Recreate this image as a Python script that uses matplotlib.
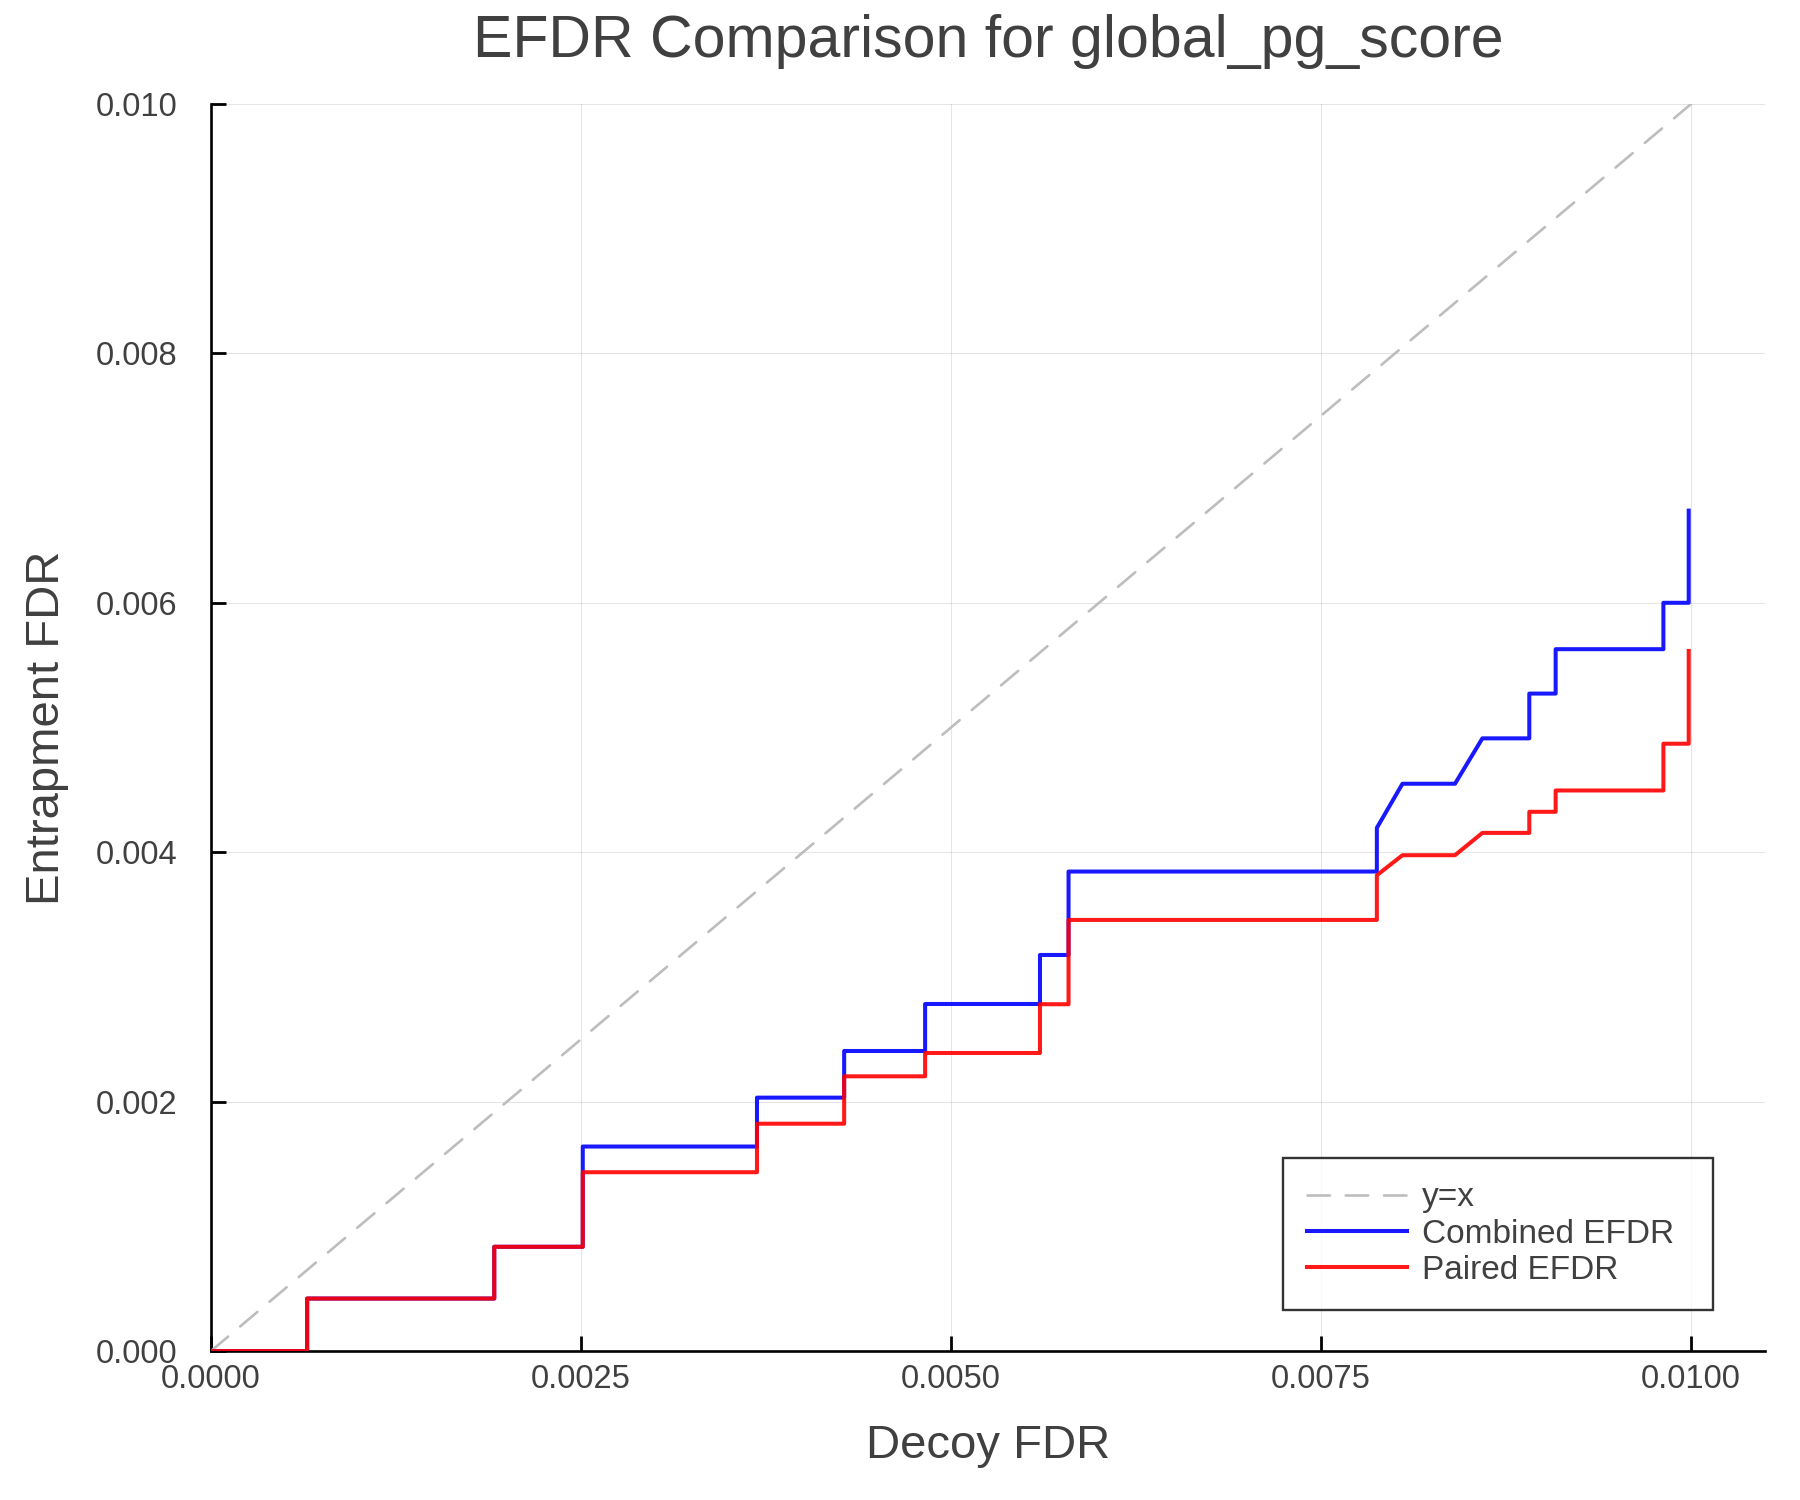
import matplotlib
matplotlib.use("Agg")
import matplotlib.pyplot as plt
import numpy as np

plt.rcParams['font.family'] = ['Liberation Sans', 'DejaVu Sans']

# ---- data ----
decoy_fdr = [0.0, 0.000650, 0.000650, 0.001914, 0.001914, 0.002512, 0.002512,
             0.003689, 0.003689, 0.004278, 0.004278, 0.004825, 0.004825,
             0.005601, 0.005601, 0.005794, 0.005794, 0.007877, 0.007877,
             0.008050, 0.008405, 0.008590, 0.008907, 0.008907, 0.009085,
             0.009085, 0.009813, 0.009813, 0.009984, 0.009984]
combined_efdr = [0.0, 0.0, 0.000421, 0.000421, 0.000836, 0.000836, 0.001640,
                 0.001640, 0.002032, 0.002032, 0.002406, 0.002406, 0.002783,
                 0.002783, 0.003176, 0.003176, 0.003845, 0.003845, 0.004195,
                 0.004549, 0.004549, 0.004913, 0.004913, 0.005272, 0.005272,
                 0.005628, 0.005628, 0.006000, 0.006000, 0.006739]
paired_efdr = [0.0, 0.0, 0.000421, 0.000421, 0.000836, 0.000836, 0.001434,
               0.001434, 0.001823, 0.001823, 0.002203, 0.002203, 0.002390,
               0.002390, 0.002781, 0.002781, 0.003457, 0.003457, 0.003815,
               0.003976, 0.003976, 0.004155, 0.004155, 0.004324, 0.004324,
               0.004495, 0.004495, 0.004870, 0.004870, 0.005614]
diag = [0.0, 0.01]

xticks = [0.0, 0.0025, 0.0050, 0.0075, 0.0100]
xtick_labels = ["0.0000", "0.0025", "0.0050", "0.0075", "0.0100"]
yticks = [0.0, 0.002, 0.004, 0.006, 0.008, 0.010]
ytick_labels = ["0.000", "0.002", "0.004", "0.006", "0.008", "0.010"]

TXT = "#404040"

fig = plt.figure(figsize=(18, 15), dpi=100)
ax = fig.add_axes([0.1172, 0.0993, 0.9806 - 0.1172, 0.9307 - 0.0993])

ax.plot(diag, diag, color="#bdbdbd", lw=1.9, dashes=(8.5, 6.0),
        dash_capstyle='round', label="y=x", zorder=3)
ax.plot(decoy_fdr, combined_efdr, color="blue", alpha=0.9, lw=2.9,
        label="Combined EFDR", zorder=4)
ax.plot(decoy_fdr, paired_efdr, color="red", alpha=0.9, lw=2.9,
        label="Paired EFDR", zorder=5)

ax.set_xlim(0, 0.0105)
ax.set_ylim(0, 0.010)
ax.set_xticks(xticks)
ax.set_xticklabels(xtick_labels)
ax.set_yticks(yticks)
ax.set_yticklabels(ytick_labels)

ax.grid(True, color="black", alpha=0.1, lw=0.8)
ax.set_axisbelow(True)
for s in ["top", "right"]:
    ax.spines[s].set_visible(False)
for s in ["left", "bottom"]:
    ax.spines[s].set_linewidth(1.9)
    ax.spines[s].set_color("black")

ax.tick_params(axis='both', direction='in', length=11, width=2.0,
               color='black', labelsize=23.5, labelcolor=TXT)
ax.tick_params(axis='y', pad=24)
ax.tick_params(axis='x', pad=9.5)

ax.set_title("EFDR Comparison for global_pg_score", fontsize=42.5,
             color=TXT, pad=34)
ax.set_xlabel("Decoy FDR", fontsize=34, color=TXT, labelpad=21)
ax.set_ylabel("Entrapment FDR", fontsize=34, color=TXT, labelpad=19)

leg = ax.legend(loc="lower left", bbox_to_anchor=(0.690, 0.0329, 0.2765, 0.12),
                mode="expand", fontsize=24, frameon=True, fancybox=False,
                handlelength=3.0, handletextpad=0.45, labelspacing=0.16,
                borderpad=0.72, borderaxespad=0.0)
leg.get_frame().set_edgecolor("black")
leg.get_frame().set_linewidth(1.7)
for t in leg.get_texts():
    t.set_color(TXT)

fig.savefig("out.png", dpi=100)
